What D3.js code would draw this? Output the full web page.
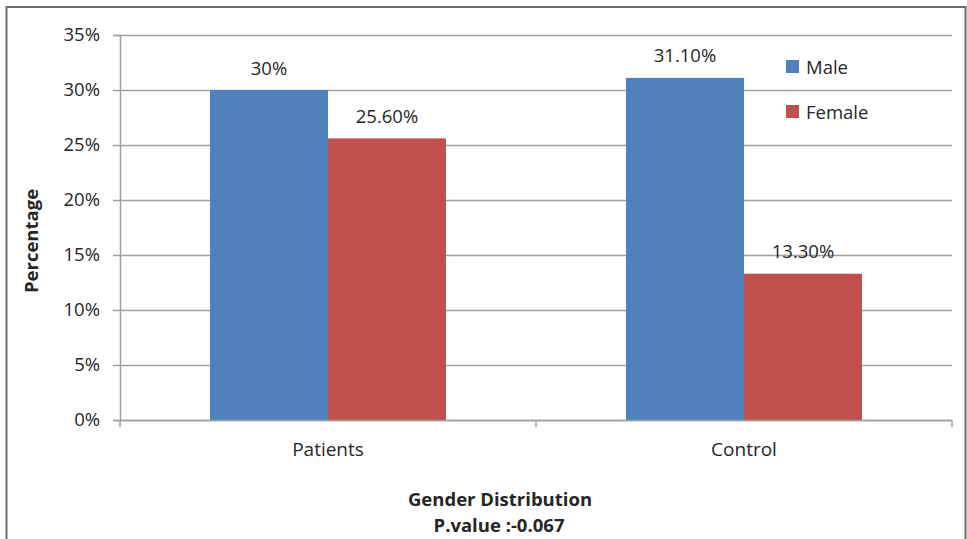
<!DOCTYPE html>
<html>
<head>
<meta charset="utf-8">
<script src="https://cdn.jsdelivr.net/npm/d3@7"></script>
<style>
  body { margin: 0; background: #fff; }
  svg { display: block; }
  text { font-family: "Open Sans", Lato, sans-serif; fill: #262626; }
</style>
</head>
<body>
<svg id="chart" width="967" height="539"></svg>
<script>
// Gender distribution data (percent)
const categories = ["Patients", "Control"];
const seriesNames = ["Male", "Female"];
const maleValues = [30, 31.1];
const femaleValues = [25.6, 13.3];
const valueLabels = [["30%", "25.60%"], ["31.10%", "13.30%"]];
const yTicks = [0, 5, 10, 15, 20, 25, 30, 35];
const colors = ["#4F81BD", "#C0504D"];

const svg = d3.select("#chart");
const fontSize = "18.5px";
const titleSize = "18.5px";

// outer frame
svg.append("rect")
  .attr("x", 6.5).attr("y", 7).attr("width", 959).attr("height", 540)
  .attr("fill", "none").attr("stroke", "#6e6e6e").attr("stroke-width", 2);

const plotLeft = 120, plotRight = 952, plotTop = 35, plotBottom = 420;

const x0 = d3.scaleBand().domain(categories).range([plotLeft, plotRight]).padding(0);
const x1 = d3.scaleBand().domain(seriesNames).range([0, x0.bandwidth()])
  .paddingInner(0).paddingOuter(0.763);
const y = d3.scaleLinear().domain([0, 35]).range([plotBottom, plotTop]);

// gridlines
svg.append("g").selectAll("line").data(yTicks).join("line")
  .attr("x1", plotLeft).attr("x2", plotRight)
  .attr("y1", d => Math.round(y(d)) + 0.5).attr("y2", d => Math.round(y(d)) + 0.5)
  .attr("stroke", "#a0a0a0").attr("stroke-width", 1.5);

// y axis
const yAxis = svg.append("g").attr("transform", `translate(${plotLeft},0)`)
  .call(d3.axisLeft(y).tickValues(yTicks).tickFormat(d => d + "%").tickSize(7).tickPadding(13));
yAxis.select(".domain").attr("stroke", "#a0a0a0").attr("stroke-width", 1.5);
yAxis.selectAll(".tick line").attr("stroke", "#a0a0a0").attr("stroke-width", 1.5);
yAxis.selectAll(".tick text").style("font-size", fontSize).attr("fill", "#262626")
  .style("font-family", "'Open Sans', Lato, sans-serif");

// bars
const rows = categories.map((c, i) => ({ cat: c, vals: [maleValues[i], femaleValues[i]], labels: valueLabels[i] }));
const groups = svg.append("g").selectAll("g").data(rows).join("g")
  .attr("transform", d => `translate(${x0(d.cat)},0)`);

groups.selectAll("rect").data(d => d.vals.map((v, j) => ({ s: seriesNames[j], v, j })))
  .join("rect")
  .attr("x", d => x1(d.s)).attr("width", x1.bandwidth())
  .attr("y", d => y(d.v)).attr("height", d => y(0) - y(d.v))
  .attr("fill", d => colors[d.j]);

groups.selectAll("text.val").data(d => d.vals.map((v, j) => ({ s: seriesNames[j], v, lab: d.labels[j] })))
  .join("text").attr("class", "val")
  .attr("x", d => x1(d.s) + x1.bandwidth() / 2)
  .attr("y", d => y(d.v) - 15.5)
  .attr("text-anchor", "middle").style("font-size", fontSize)
  .text(d => d.lab);

// x axis
const xAxis = svg.append("g").attr("transform", `translate(0,${plotBottom})`);
xAxis.append("line").attr("x1", plotLeft).attr("x2", plotRight).attr("y1", 0.5).attr("y2", 0.5)
  .attr("stroke", "#a0a0a0").attr("stroke-width", 1.5);
const boundaries = [plotLeft, ...categories.map(c => x0(c) + x0.bandwidth())];
xAxis.selectAll("line.tk").data(boundaries).join("line").attr("class", "tk")
  .attr("x1", d => d).attr("x2", d => d).attr("y1", 0).attr("y2", 7)
  .attr("stroke", "#a0a0a0").attr("stroke-width", 1.5);
xAxis.selectAll("text").data(categories).join("text")
  .attr("x", d => x0(d) + x0.bandwidth() / 2).attr("y", 36)
  .attr("text-anchor", "middle").style("font-size", "19px").text(d => d);

// axis titles
svg.append("text").attr("x", 500).attr("y", 506).attr("text-anchor", "middle")
  .style("font-size", titleSize).style("font-weight", "bold").text("Gender Distribution");
svg.append("text").attr("x", 499).attr("y", 531.5).attr("text-anchor", "middle")
  .style("font-size", titleSize).style("font-weight", "bold").text("P.value :-0.067");
svg.append("text").attr("transform", "translate(38,241) rotate(-90)")
  .attr("text-anchor", "middle").style("font-size", titleSize).style("font-weight", "bold")
  .text("Percentage");

// legend
const legend = svg.append("g").selectAll("g").data(seriesNames).join("g")
  .attr("transform", (d, i) => `translate(786,${60 + i * 45})`);
legend.append("rect").attr("width", 13).attr("height", 13).attr("fill", (d, i) => colors[i]);
legend.append("text").attr("x", 20).attr("y", 13.5).style("font-size", "18.5px").text(d => d);
</script>
</body>
</html>
